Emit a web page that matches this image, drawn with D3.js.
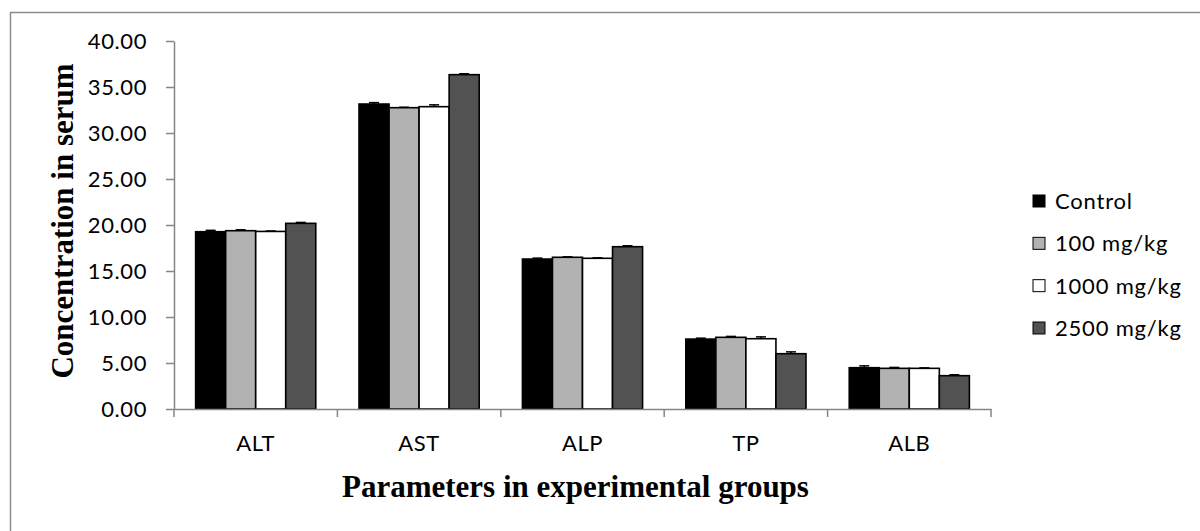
<!DOCTYPE html>
<html><head><meta charset="utf-8">
<script src="https://cdn.jsdelivr.net/npm/d3@7"></script>
<style>body{margin:0;background:#fff}svg{display:block}</style>
</head><body>
<svg id="c" width="1200" height="531"></svg>
<script>
const categories = ["ALT","AST","ALP","TP","ALB"];
const seriesNames = ["Control","100 mg/kg","1000 mg/kg","2500 mg/kg"];
const seriesColors = ["#000000","#b2b2b2","#ffffff","#525252"];
const control = [19.27, 33.15, 16.30, 7.60, 4.49];
const dose100 = [19.38, 32.75, 16.49, 7.79, 4.42];
const dose1000 = [19.30, 32.86, 16.38, 7.64, 4.42];
const dose2500 = [20.18, 36.34, 17.64, 6.01, 3.62];
const errControl = [0.15, 0.15, 0.10, 0.10, 0.20];
const err100 = [0.10, 0.05, 0.05, 0.10, 0.10];
const err1000 = [0.05, 0.20, 0.05, 0.20, 0.05];
const err2500 = [0.10, 0.10, 0.10, 0.20, 0.10];
const yTicks = [0,5,10,15,20,25,30,35,40];

(function(){
const seriesVals = [control, dose100, dose1000, dose2500];
const seriesErr = [errControl, err100, err1000, err2500];
const sans = "Lato, 'Open Sans', sans-serif";
const serif = "'Liberation Serif','Times New Roman',serif";

const svg = d3.select("#c");
const mLeft = 174, mRight = 991, mTop = 41, mBottom = 409;

// outer frame
svg.append("path").attr("d","M10.5,540 V12.5 H1210").attr("fill","none").attr("stroke","#8c8c8c").attr("stroke-width",1.5);

const x = d3.scaleBand().domain(categories).range([mLeft, mRight]).paddingInner(0).paddingOuter(0);
const xs = d3.scaleBand().domain(d3.range(4)).range([0, x.bandwidth()]).paddingOuter(0.72).paddingInner(0);
const y = d3.scaleLinear().domain([0,40]).range([mBottom, mTop]);

// y axis
const ya = svg.append("g").attr("transform",`translate(${mLeft},0)`)
  .call(d3.axisLeft(y).tickValues(yTicks).tickSize(8).tickSizeOuter(0).tickFormat(d3.format(".2f")));
ya.select(".domain").attr("stroke","#868686").attr("stroke-width",1.5);
ya.selectAll(".tick line").attr("stroke","#868686").attr("stroke-width",1.5);
ya.selectAll(".tick text").attr("font-family",sans).attr("font-size",22).attr("letter-spacing","0.6px")
  .attr("fill","#000").attr("x",-27).attr("dy","0.36em");

// bars
const data = [];
categories.forEach((c,i)=>seriesVals.forEach((s,j)=>data.push({c,j,v:s[i],e:seriesErr[j][i]})));
svg.append("g").selectAll("rect").data(data).join("rect")
  .attr("x",d=>x(d.c)+xs(d.j))
  .attr("y",d=>y(d.v))
  .attr("width",xs.bandwidth())
  .attr("height",d=>y(0)-y(d.v))
  .attr("fill",d=>seriesColors[d.j])
  .attr("stroke","#000").attr("stroke-width",1.6);

// error bars
const eb = svg.append("g").attr("stroke","#000").attr("stroke-width",1.5);
data.forEach(d=>{
  const cx = x(d.c)+xs(d.j)+xs.bandwidth()/2;
  eb.append("line").attr("x1",cx).attr("x2",cx).attr("y1",y(d.v)).attr("y2",y(d.v+d.e));
  eb.append("line").attr("x1",cx-5).attr("x2",cx+5).attr("y1",y(d.v+d.e)).attr("y2",y(d.v+d.e));
});

// x axis
const xa = svg.append("g").attr("transform",`translate(0,${mBottom})`)
  .call(d3.axisBottom(x).tickSize(0).tickSizeOuter(0));
xa.select(".domain").attr("stroke","#868686").attr("stroke-width",1.5);
xa.selectAll(".tick text").attr("font-family",sans).attr("font-size",22).attr("letter-spacing","0.6px")
  .attr("fill","#000").attr("y",34).attr("dy","0.36em");
const bounds = categories.map(c=>x(c)).concat([x(categories[categories.length-1])+x.bandwidth()]);
xa.selectAll(".bnd").data(bounds).join("line").attr("class","bnd")
  .attr("x1",d=>d).attr("x2",d=>d).attr("y1",0).attr("y2",8)
  .attr("stroke","#868686").attr("stroke-width",1.5);

// axis titles
svg.append("text").attr("transform",`translate(73,${(mTop+mBottom)/2-4}) rotate(-90)`)
  .attr("text-anchor","middle").attr("font-family",serif)
  .attr("font-weight","bold").attr("font-size",31).text("Concentration in serum");
svg.append("text").attr("x",342).attr("y",497)
  .attr("text-anchor","start").attr("font-family",serif)
  .attr("font-weight","bold").attr("font-size",31).text("Parameters in experimental groups");

// legend
const lg = svg.append("g");
const ly = d3.scalePoint().domain(seriesNames).range([201, 328]);
seriesNames.forEach((n,i)=>{
  lg.append("rect").attr("x",1033).attr("y",ly(n)-6).attr("width",12).attr("height",12)
    .attr("fill",seriesColors[i]).attr("stroke","#000").attr("stroke-width",1);
  lg.append("text").attr("x",1055).attr("y",ly(n)).attr("dy","0.36em").attr("letter-spacing","0.8px")
    .attr("font-family",sans).attr("font-size",22).text(n);
});
})();
</script>
</body></html>
